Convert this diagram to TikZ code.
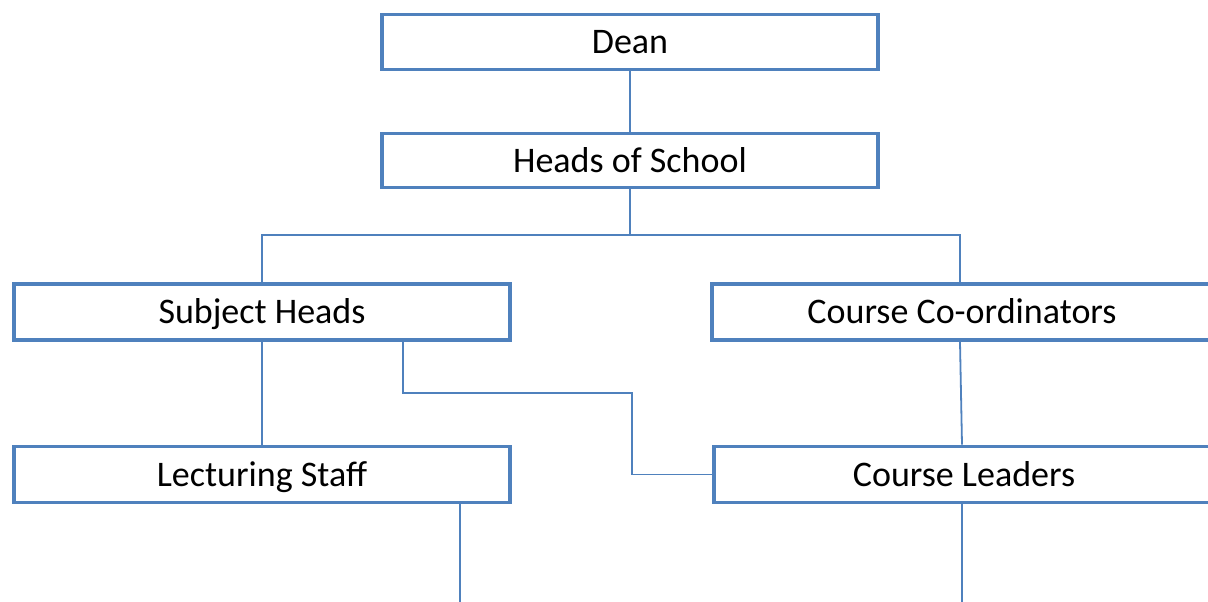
\documentclass[tikz,border=0pt]{standalone}
\usepackage{fontspec}
\setmainfont{Carlito}
\definecolor{obox}{HTML}{4F81BD}
\begin{document}
\begin{tikzpicture}[x=1pt,y=-1pt,
  orgbox/.style={draw=obox,line width=3.8pt,fill=white,rectangle,inner sep=0pt,
    minimum width=496pt,minimum height=55pt,text height=23pt,text depth=0pt,
    font=\fontsize{36}{42}\selectfont},
  conn/.style={draw=obox,line width=1.8pt}]
\useasboundingbox (0,0) rectangle (1208,602);
\clip (0,0) rectangle (1208,602);
\node[orgbox] (dean) at (630,42) {Dean};
\node[orgbox,minimum height=54pt] (hos) at (630,160.5) {Heads of School};
\node[orgbox,minimum height=56pt] (sh) at (262,312) {Subject Heads};
\node[orgbox,minimum height=56pt,minimum width=504pt] (cc) at (964,312) {\hspace*{-4pt}Course Co-ordinators};
\node[orgbox,minimum height=56pt,minimum width=504pt] (cl) at (966,474.5) {\hspace*{-4pt}Course Leaders};
\node[orgbox,minimum height=56pt] (ls) at (262,474.5) {Lecturing Staff};
\coordinate (bus) at (630,235);
\coordinate (j1) at (632,393);
\coordinate (lsend) at (460,602);
\coordinate (clend) at (962,602);
\draw[conn] (dean.south) -- (hos.north);
\draw[conn] (hos.south) -- (bus);
\draw[conn] (sh.north) |- (bus) -| ([xshift=-4pt]cc.north);
\draw[conn] (sh.south) -- (ls.north);
\draw[conn] ([xshift=141pt]sh.south) |- (j1) |- (cl.west);
\draw[conn] ([xshift=-4pt]cc.south) -- ([xshift=-4pt]cl.north);
\draw[conn] (cl.south -| clend) -- (clend);
\draw[conn] (ls.south -| lsend) -- (lsend);
\end{tikzpicture}
\end{document}
